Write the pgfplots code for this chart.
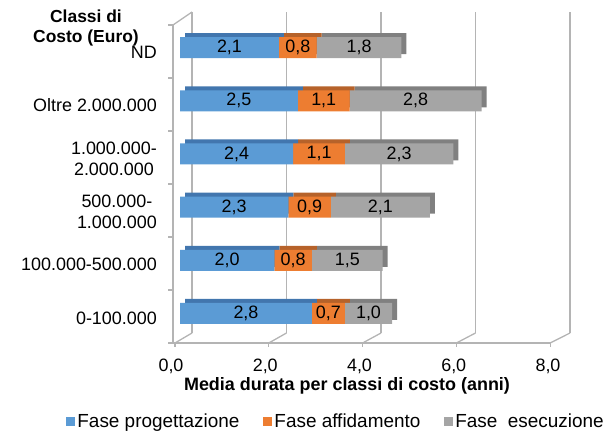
\documentclass[border=0pt]{standalone}
\usepackage{fontspec}
\setmainfont{Liberation Sans}
\usepackage{pgfplots}
\usepackage{pgfplotstable}
\pgfplotsset{compat=1.18}

\definecolor{prog}{HTML}{5B9BD5}
\definecolor{aff}{HTML}{ED7D31}
\definecolor{ese}{HTML}{A5A5A5}
\definecolor{progtop}{HTML}{4276AE}
\definecolor{afftop}{HTML}{B6622A}
\definecolor{esetop}{HTML}{808080}
\definecolor{griglia}{HTML}{B4B4B4}

% durata media (anni); y: 0 = 0-100.000 ... 5 = ND
\pgfplotstableread{
y   prog aff ese
0   2.8  0.7 1.0
1   2.0  0.8 1.5
2   2.3  0.9 2.1
3   2.4  1.1 2.3
4   2.5  1.1 2.8
5   2.1  0.8 1.8
}\durata

\newcommand\fs{\fontsize{18}{21}\selectfont}

\pgfplotsset{
  base/.style={
    scale only axis, width=377bp, height=319bp,
    xmin=0, xmax=8, ymin=-0.5, ymax=5.5,
    anchor=south west, font=\fs,
  },
  barre/.style={base, xbar stacked, bar width=21bp},
  etichetta/.style={
    nodes near coords={\pgfmathprintnumber[fixed,fixed zerofill,precision=1,use comma,assume math mode=true]{\pgfplotspointmeta}},
    every node near coord/.style={anchor=center, text=black, font=\fs, inner sep=0pt},
  },
}

\begin{document}
\begin{tikzpicture}
\useasboundingbox (0bp,0bp) rectangle (605bp,-432bp);

% pareti e pavimento finto 3D
\begin{scope}[x=1bp,y=-1bp,griglia,line width=1.3bp]
  \foreach \v in {0,2,4,6,8} {
    \draw (192+47.25*\v,12) -- (192+47.25*\v,333);
    \draw (175+46.9*\v,343) -- (192+47.25*\v,333);
    \draw (175+46.9*\v,343) -- (175+46.9*\v,347);
  }
  \draw (173,343) -- (550,343);
  \draw (173,25) -- (173,343);
  \draw (173,25) -- (192,12);
  \foreach \k in {0,...,6} \draw (168,25+53*\k) -- (173,25+53*\k);
\end{scope}

% facce superiori / laterali delle barre
\begin{axis}[barre, at={(185bp,-336bp)}, hide axis]
  \addplot[fill=progtop, draw=none] table[x=prog,y=y] {\durata};
  \addplot[fill=afftop, draw=none] table[x=aff,y=y] {\durata};
  \addplot[fill=esetop, draw=none] table[x=ese,y=y] {\durata};
\end{axis}

\begin{axis}[barre, at={(180bp,-340bp)},
  axis line style={draw=none}, major tick length=0pt,
  xtick={0,2,4,6,8}, ytick={0,...,5},
  xticklabel={\pgfmathprintnumber[fixed,fixed zerofill,precision=1,use comma,assume math mode=true]{\tick}},
  xticklabel style={inner sep=0pt, anchor=north, xshift=-9bp, yshift=-19bp},
  yticklabels={0-100.000,100.000-500.000,{500.000-\\1.000.000},{1.000.000-\\2.000.000},Oltre 2.000.000,ND},
  yticklabel style={inner sep=0pt, anchor=east, align=center, xshift=-23bp, yshift=-4.5bp},
  legend columns=3,
  legend style={draw=none, fill=none, at={(0.414,-0.254)}, anchor=center,
    font=\fontsize{19}{22}\selectfont,
    /tikz/every even column/.append style={column sep=22bp}},
  legend image code/.code={\fill[#1] (0bp,-4.5bp) rectangle (9bp,4.5bp);},
]
  \addplot[fill=prog, draw=none] table[x=prog,y=y] {\durata};
  \addplot[fill=aff, draw=none] table[x=aff,y=y] {\durata};
  \addplot[fill=ese, draw=none] table[x=ese,y=y] {\durata};
  \legend{Fase progettazione, Fase affidamento, Fase\ \ esecuzione}
\end{axis}

% etichette dei valori, al centro di ogni segmento
\begin{axis}[base, at={(180bp,-340bp)}, hide axis, etichetta]
  \addplot[draw=none, mark=none, point meta=\thisrow{prog}]
    table[x expr=\thisrow{prog}/2, y=y] {\durata};
  \addplot[draw=none, mark=none, point meta=\thisrow{aff}]
    table[x expr=\thisrow{prog}+\thisrow{aff}/2, y=y] {\durata};
  \addplot[draw=none, mark=none, point meta=\thisrow{ese}]
    table[x expr=\thisrow{prog}+\thisrow{aff}+\thisrow{ese}/2, y=y] {\durata};
\end{axis}

\node[font=\fontsize{17.5}{21}\selectfont\bfseries, align=center] at (86bp,-28bp) {Classi di\\Costo (Euro)};
\node[font=\fs\bfseries] at (347bp,-386bp) {Media durata per classi di costo (anni)};
\end{tikzpicture}
\end{document}
